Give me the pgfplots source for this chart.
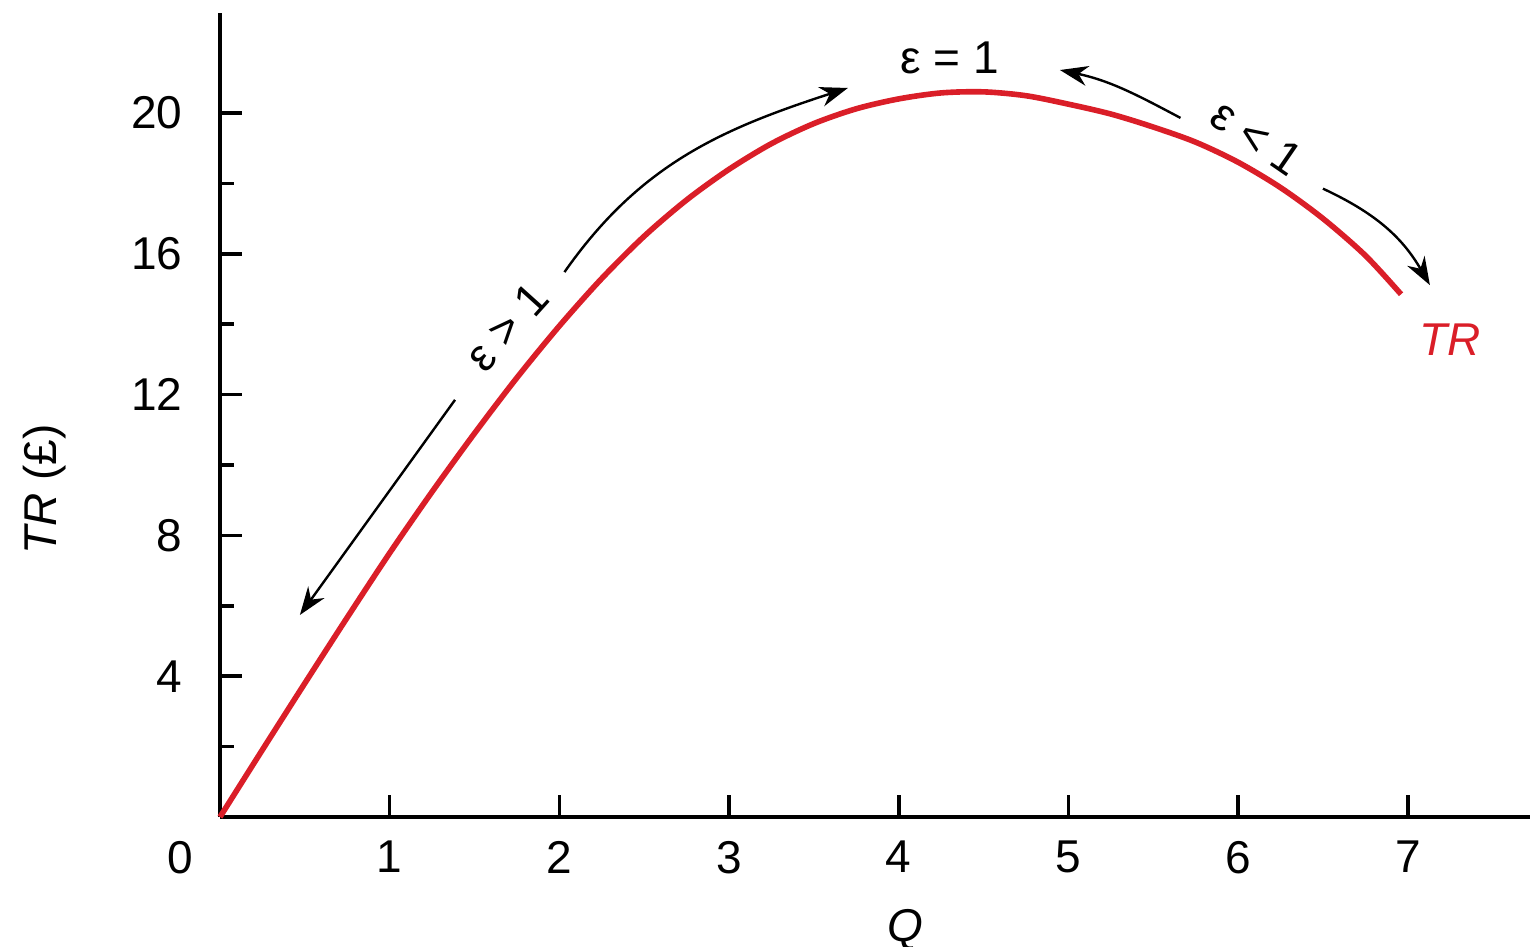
\documentclass[border=0pt]{standalone}
\usepackage{fontspec}
\setmainfont{Liberation Sans}
\usepackage{pgfplots}
\pgfplotsset{compat=1.18}
\usetikzlibrary{arrows.meta}
\definecolor{trred}{RGB}{218,30,40}
\begin{document}
\fontsize{11.5}{13.8}\selectfont
\begin{tikzpicture}
\begin{axis}[
  name=ax,
  scale only axis,
  width=327.5pt, height=201pt,
  xmin=0, xmax=7.72, ymin=0, ymax=22.84,
  axis x line=bottom, axis y line=left,
  axis line style={-, line width=1.1pt},
  tick align=inside,
  xtick={1,2,3,4,5,6,7},
  ytick={4,8,12,16,20},
  minor ytick={2,6,10,14,18},
  major tick length=5.5pt,
  minor tick length=3.5pt,
  every tick/.style={black, line width=0.9pt},
  /pgf/number format/assume math mode=true,
  xticklabel style={yshift=-2pt},
  yticklabel style={xshift=-5.4pt},
  xlabel={\textit{Q}},
  xlabel style={at={(axis description cs:0.523,-0.1405)}, anchor=center},
  ylabel={\textit{TR} (£)},
  ylabel style={at={(axis description cs:-0.1336,0.407)}, anchor=center},
  clip=false,
]
\addplot[trred, line width=1.4pt, smooth] coordinates {
  (0,0) (0.25,1.91) (0.5,3.8) (0.75,5.67) (1,7.5) (1.25,9.24) (1.5,10.9)
  (1.75,12.48) (2,13.95) (2.25,15.3) (2.5,16.5) (2.75,17.53) (3,18.4)
  (3.25,19.13) (3.5,19.7) (3.75,20.12) (4,20.4) (4.25,20.57) (4.5,20.6)
  (4.75,20.49) (5,20.25) (5.25,19.97) (5.5,19.6) (5.75,19.17) (6,18.6)
  (6.25,17.88) (6.5,17.0) (6.75,15.95) (6.96,14.85)
};
\node[anchor=center] at (axis cs:0,0) [xshift=-10pt, yshift=-10.25pt] {0};
% annotations
\node at (axis cs:4.30,21.56) {ε = 1};
\draw[line width=0.6pt, -{Stealth[length=7pt,width=5pt]}] (axis cs:2.03,15.48) to[out=55,in=198] (axis cs:3.70,20.71);
\draw[line width=0.6pt, -{Stealth[length=7pt,width=5pt]}] (axis cs:1.385,11.85) -- (axis cs:0.471,5.74);
\node[rotate=48] at (axis cs:1.69,13.92) {ε > 1};
\draw[line width=0.6pt, -{Stealth[length=7pt,width=5pt]}] (axis cs:5.66,19.86) to[out=152,in=-12] (axis cs:4.95,21.22);
\node[rotate=-34.5] at (axis cs:6.11,19.30) {ε < 1};
\draw[line width=0.6pt, -{Stealth[length=7pt,width=5pt]}] (axis cs:6.50,17.85) to[out=-25,in=120] (axis cs:7.13,15.11);
\node[trred] at (axis cs:7.25,13.55) {\textit{TR}};
\end{axis}
\pgfresetboundingbox
\path[use as bounding box] ([shift={(-55pt,-32.25pt)}]ax.south west) rectangle ([shift={(0pt,3.25pt)}]ax.north east);
\end{tikzpicture}
\end{document}
